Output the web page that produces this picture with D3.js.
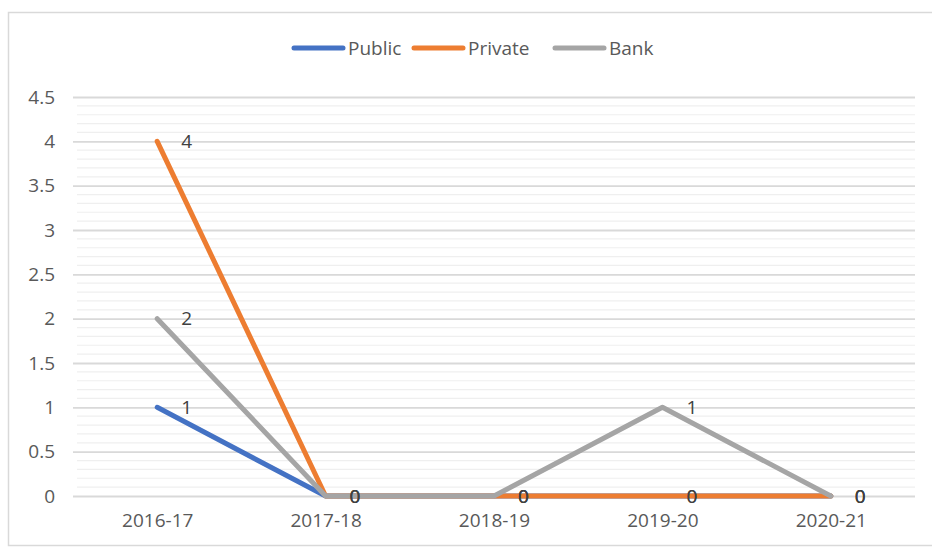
<!DOCTYPE html>
<html>
<head>
<meta charset="utf-8">
<script src="https://cdn.jsdelivr.net/npm/d3@7"></script>
<style>
  body { margin: 0; background: #fff; }
  svg { display: block; }
  text { font-family: "Open Sans", "Noto Sans", sans-serif; }
</style>
</head>
<body>
<svg id="chart" width="932" height="548"></svg>
<script>
const categories = ["2016-17", "2017-18", "2018-19", "2019-20", "2020-21"];
const publicValues = [1, 0, 0, 0, 0];
const privateValues = [4, 0, 0, 0, 0];
const bankValues = [2, 0, 0, 1, 0];
const yTicks = [0, 0.5, 1, 1.5, 2, 2.5, 3, 3.5, 4, 4.5];

const seriesList = [
  { name: "Public", values: publicValues, color: "#4472C4" },
  { name: "Private", values: privateValues, color: "#ED7D31" },
  { name: "Bank", values: bankValues, color: "#A5A5A5" }
];

const svg = d3.select("#chart");
const W = 932, H = 548;
const plot = { left: 73, right: 915, top: 97, bottom: 496 };

// chart border
svg.append("rect")
  .attr("x", 8.5).attr("y", 12.5)
  .attr("width", W + 10).attr("height", 533)
  .attr("fill", "#fff")
  .attr("stroke", "#d9d9d9").attr("stroke-width", 1.5);

const x = d3.scalePoint().domain(categories)
  .range([plot.left, plot.right]).padding(0.5);
const y = d3.scaleLinear().domain([0, 4.5]).range([plot.bottom, plot.top]);

// minor gridlines every 0.1
const minor = d3.range(0, 45).map(i => i / 10).filter(v => Math.round(v * 10) % 5 !== 0);
svg.append("g").selectAll("line").data(minor).join("line")
  .attr("x1", plot.left + 4).attr("x2", plot.right)
  .attr("y1", d => y(d)).attr("y2", d => y(d))
  .attr("stroke", "#efefef").attr("stroke-width", 1.2);

// y axis with major gridlines
const yAxis = d3.axisLeft(y).tickValues(yTicks)
  .tickFormat(d => String(d))
  .tickSize(-(plot.right - plot.left)).tickPadding(18);
const gy = svg.append("g").attr("transform", `translate(${plot.left},0)`).call(yAxis);
gy.select(".domain").remove();
gy.selectAll(".tick line").attr("stroke", "#d9d9d9").attr("stroke-width", 1.8);
gy.selectAll(".tick text").attr("fill", "#595959")
  .style("font-size", "19px").attr("x", -18);

// x axis labels
const xAxis = d3.axisBottom(x).tickSize(0).tickPadding(18);
const gx = svg.append("g").attr("transform", `translate(0,${plot.bottom})`).call(xAxis);
gx.select(".domain").remove();
gx.selectAll(".tick text").attr("fill", "#595959").style("font-size", "19px");

// lines
const line = d3.line().x((d, i) => x(categories[i])).y(d => y(d));
svg.append("g").selectAll("path").data(seriesList).join("path")
  .attr("d", s => line(s.values))
  .attr("fill", "none")
  .attr("stroke", s => s.color)
  .attr("stroke-width", 5)
  .attr("stroke-linecap", "round")
  .attr("stroke-linejoin", "round");

// data labels
seriesList.forEach(s => {
  svg.append("g").selectAll("text").data(s.values).join("text")
    .attr("x", (d, i) => x(categories[i]) + 24)
    .attr("y", d => y(d))
    .attr("dy", "0.35em")
    .attr("fill", "#404040")
    .style("font-size", "19px")
    .text(d => d);
});

// legend
const legendItems = [
  { name: "Public", color: "#4472C4", lx: 292 },
  { name: "Private", color: "#ED7D31", lx: 412 },
  { name: "Bank", color: "#A5A5A5", lx: 553 }
];
const lg = svg.append("g");
legendItems.forEach(it => {
  lg.append("line")
    .attr("x1", it.lx + 2).attr("x2", it.lx + 51)
    .attr("y1", 48).attr("y2", 48)
    .attr("stroke", it.color).attr("stroke-width", 5)
    .attr("stroke-linecap", "round");
  lg.append("text")
    .attr("x", it.lx + 56).attr("y", 48).attr("dy", "0.35em")
    .attr("fill", "#595959").style("font-size", "19px")
    .text(it.name);
});
</script>
</body>
</html>
